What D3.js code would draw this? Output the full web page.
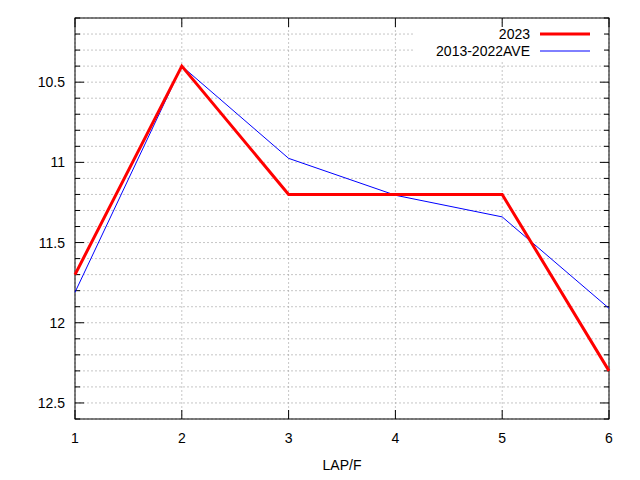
<!DOCTYPE html>
<html><head><script src="https://cdn.jsdelivr.net/npm/d3@7"></script>
<style>body{margin:0;background:#fff}text{font-family:"Liberation Sans",Arial,sans-serif;font-size:14px}</style>
</head><body><svg width="640" height="480"></svg>
<script>
const laps=[1,2,3,4,5,6];
const s2023=[11.7,10.4,11.2,11.2,11.2,12.3];
const sAve=[11.81,10.4,10.975,11.205,11.34,11.91];
const yTicks=[10.5,11,11.5,12,12.5];
const names=["2023","2013-2022AVE"];
const svg=d3.select("svg");
const L=75,R=609,T=18,B=419;
const x=d3.scaleLinear().domain([1,6]).range([L,R]);
const y=d3.scaleLinear().domain([10.1,12.6]).range([T,B]);
const minor=d3.range(10.1,12.61,0.1).map(v=>+v.toFixed(1));
const g=svg.append("g");
g.selectAll(".hg").data(minor).join("line").attr("x1",L).attr("x2",R).attr("y1",d=>y(d)).attr("y2",d=>y(d)).attr("stroke","#a0a0a0").attr("stroke-width",0.6).attr("stroke-dasharray","2,2");
g.selectAll(".vg").data(laps).join("line").attr("y1",T).attr("y2",B).attr("x1",d=>x(d)).attr("x2",d=>x(d)).attr("stroke","#a0a0a0").attr("stroke-width",0.6).attr("stroke-dasharray","2,2");
// legend background
svg.append("rect").attr("x",415).attr("y",23).attr("width",190).attr("height",38).attr("fill","#fff");
// ticks
minor.forEach(v=>{const maj=yTicks.some(t=>Math.abs(t-v)<1e-6);const l=maj?9:5;
 svg.append("line").attr("x1",L).attr("x2",L+l).attr("y1",y(v)).attr("y2",y(v)).attr("stroke","#000");
 svg.append("line").attr("x1",R).attr("x2",R-l).attr("y1",y(v)).attr("y2",y(v)).attr("stroke","#000");});
laps.forEach(v=>{svg.append("line").attr("x1",x(v)).attr("x2",x(v)).attr("y1",B).attr("y2",B-9).attr("stroke","#000");
 svg.append("line").attr("x1",x(v)).attr("x2",x(v)).attr("y1",T).attr("y2",T+9).attr("stroke","#000");
 svg.append("text").attr("x",x(v)).attr("y",B+24).attr("text-anchor","middle").text(v);});
yTicks.forEach(v=>svg.append("text").attr("x",L-10).attr("y",y(v)+5).attr("text-anchor","end").text(v));
svg.append("rect").attr("x",L).attr("y",T).attr("width",R-L).attr("height",B-T).attr("fill","none").attr("stroke","#000");
svg.append("text").attr("x",(L+R)/2).attr("y",470).attr("text-anchor","middle").text("LAP/F");
const line=d3.line().x((d,i)=>x(laps[i])).y(d=>y(d));
svg.append("path").attr("d",line(sAve)).attr("fill","none").attr("stroke","#0000ff").attr("stroke-width",1);
svg.append("path").attr("d",line(s2023)).attr("fill","none").attr("stroke","#ff0000").attr("stroke-width",3);
[[names[0],"#ff0000",3,34],[names[1],"#0000ff",1,51]].forEach(([n,c,w,yy])=>{
 svg.append("text").attr("x",530).attr("y",yy+5).attr("text-anchor","end").text(n);
 svg.append("line").attr("x1",540).attr("x2",590).attr("y1",yy).attr("y2",yy).attr("stroke",c).attr("stroke-width",w);});
</script></body></html>
